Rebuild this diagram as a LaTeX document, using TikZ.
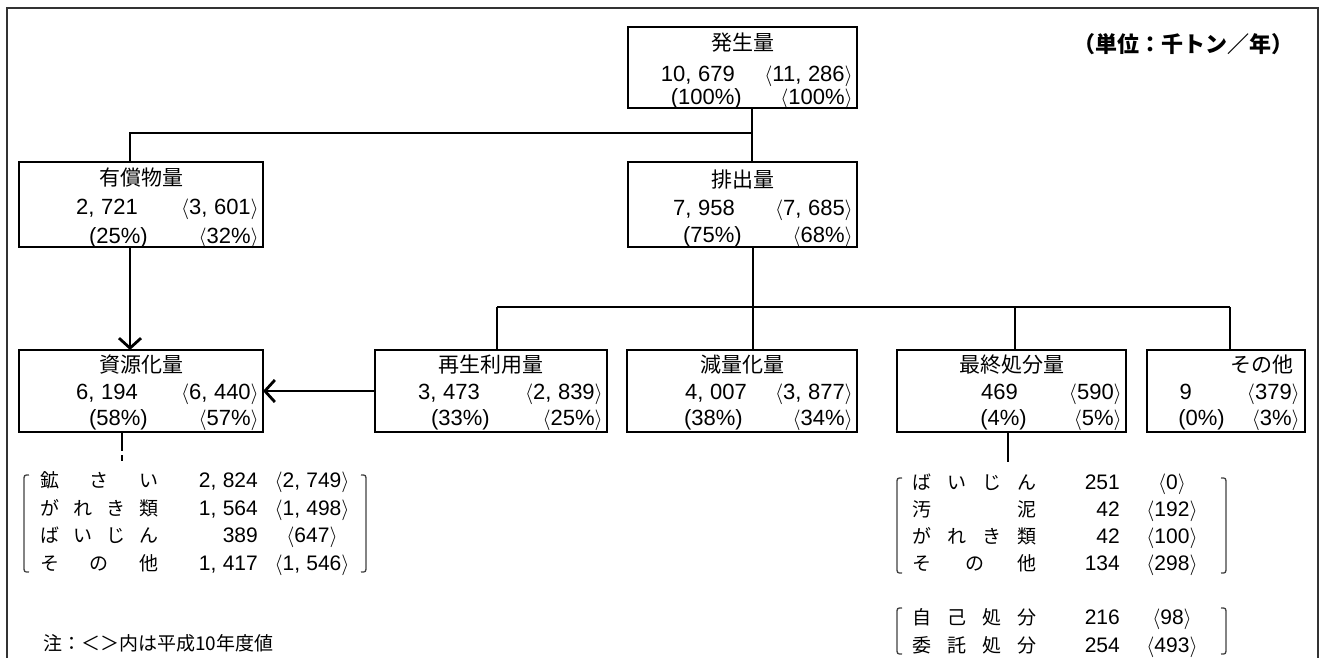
\documentclass[tikz,border=0pt]{standalone}
\usepackage{fontspec}
\setmainfont{Noto Sans CJK JP}
\newfontfamily\nf{Liberation Sans}
\usetikzlibrary{arrows.meta,calc}
\newcommand\cm{,\hspace{0.3em}}
\newcommand\la{$\langle$}
\newcommand\ra{$\rangle$}
\tikzset{
  box/.style={draw, line width=2.6pt, inner sep=0pt, outer sep=0pt},
  lnk/.style={line width=1.4pt},
  arr/.style={line width=2.8pt, -{Straight Barb[length=10pt,width=22pt,line width=2.8pt]}},
  ttl/.style={font=\fontsize{21}{21}\selectfont, inner sep=0pt, anchor=base},
  num/.style={font=\nf\fontsize{22}{22}\selectfont, inner sep=0pt, anchor=base east},
  lab/.style={font=\fontsize{19}{19}\selectfont, inner sep=0pt, anchor=base},
  lnum/.style={font=\nf\fontsize{21}{21}\selectfont, inner sep=0pt, anchor=base east},
  lbr/.style={font=\nf\fontsize{21}{21}\selectfont, inner sep=0pt, anchor=base},
  brk/.style={line width=1.3pt, black!75},
}
\begin{document}
\begin{tikzpicture}[x=1pt,y=-1pt]
\useasboundingbox (0,0) rectangle (1323,657);
% frame
\draw[line width=1.8pt, black!80] (7,700) -- (7,8) -- (1318,8) -- (1318,700);
% boxes
\node[box, minimum width=229pt, minimum height=81pt] (hassei) at (742.5,67.5) {};
\node[box, minimum width=244pt, minimum height=85pt] (yusho) at (141,204.5) {};
\node[box, minimum width=229pt, minimum height=85pt] (haishutsu) at (742.5,204.5) {};
\node[box, minimum width=244pt, minimum height=82pt] (shigen) at (141,391) {};
\node[box, minimum width=232pt, minimum height=82pt] (saisei) at (491,391) {};
\node[box, minimum width=230pt, minimum height=82pt] (genryo) at (742,391) {};
\node[box, minimum width=229pt, minimum height=82pt] (saishu) at (1011.5,391) {};
\node[box, minimum width=158pt, minimum height=82pt] (sonota) at (1226,391) {};
% box texts: hassei
\node[ttl] (t1) at (742.5,50) {発生量};
\node[num] (n1a) at (735,81) {10\cm679};
\node[num] (n1b) at (853,81) {\la 11\cm286\ra};
\node[num] (p1a) at (742,104) {(100\%)};
\node[num] (p1b) at (853,104) {\la 100\%\ra};
% yusho
\node[ttl] (t2) at (141,185.5) {有償物量};
\node[num] (n2a) at (138,214.5) {2\cm721};
\node[num] (n2b) at (259,214.5) {\la 3\cm601\ra};
\node[num] (p2a) at (148,243) {(25\%)};
\node[num] (p2b) at (259,243) {\la 32\%\ra};
% haishutsu
\node[ttl] (t3) at (742.5,187.5) {排出量};
\node[num] (n3a) at (735,215.5) {7\cm958};
\node[num] (n3b) at (853,215.5) {\la 7\cm685\ra};
\node[num] (p3a) at (742,242.5) {(75\%)};
\node[num] (p3b) at (853,242.5) {\la 68\%\ra};
% shigen
\node[ttl] (t4) at (141,372.5) {資源化量};
\node[num] (n4a) at (138,399.5) {6\cm194};
\node[num] (n4b) at (259,399.5) {\la 6\cm440\ra};
\node[num] (p4a) at (148,425) {(58\%)};
\node[num] (p4b) at (259,425) {\la 57\%\ra};
% saisei
\node[ttl] (t5) at (491,372.5) {再生利用量};
\node[num] (n5a) at (480,399.5) {3\cm473};
\node[num] (n5b) at (603,399.5) {\la 2\cm839\ra};
\node[num] (p5a) at (490,425) {(33\%)};
\node[num] (p5b) at (603,425) {\la 25\%\ra};
% genryo
\node[ttl] (t6) at (742,372.5) {減量化量};
\node[num] (n6a) at (747,399.5) {4\cm007};
\node[num] (n6b) at (853,399.5) {\la 3\cm877\ra};
\node[num] (p6a) at (743,425) {(38\%)};
\node[num] (p6b) at (853,425) {\la 34\%\ra};
% saishu
\node[ttl] (t7) at (1011.5,372.5) {最終処分量};
\node[num] (n7a) at (1018,399.5) {469};
\node[num] (n7b) at (1122,399.5) {\la 590\ra};
\node[num] (p7a) at (1027,425) {(4\%)};
\node[num] (p7b) at (1122,425) {\la 5\%\ra};
% sonota
\node[ttl] (t8) at (1262,372.5) {その他};
\node[num] (n8a) at (1192,399.5) {9};
\node[num] (n8b) at (1300,399.5) {\la 379\ra};
\node[num] (p8a) at (1225,425) {(0\%)};
\node[num] (p8b) at (1300,425) {\la 3\%\ra};
% connectors
\coordinate (c1) at (752,133);
\coordinate (c0) at (130,133);
\draw[lnk] (hassei.south -| c1) -- (haishutsu.north -| c1);
\draw[lnk] (c1) -- (c0) -- (yusho.north -| c0);
\coordinate (c2) at (753,307);
\coordinate (d1) at (497,307);
\coordinate (d3) at (1015,307);
\coordinate (d4) at (1230,307);
\draw[lnk] (haishutsu.south -| c2) -- (genryo.north -| c2);
\draw[lnk] (d1) -- (d4);
\draw[lnk] (d1) -- (saisei.north -| d1);
\draw[lnk] (d3) -- (saishu.north -| d3);
\draw[lnk] (d4) -- (sonota.north -| d4);
\coordinate (a1) at (130,0);
\coordinate (a2) at (0,391);
\draw[arr] (yusho.south -| a1) -- (shigen.north -| a1);
\draw[arr] (saisei.west |- a2) -- (shigen.east |- a2);
\coordinate (e1) at (122,0);
\coordinate (e2) at (1008,462);
\draw[line width=2.8pt, dash pattern=on 19pt off 4pt on 6pt off 60pt] (shigen.south -| e1) -- ++(0,30);
\draw[line width=2.8pt] (saishu.south -| e2) -- (e2);
% left list
\draw[brk] (29,475) .. controls (24,475) .. (24,481) -- (24,566) .. controls (24,572) .. (29,572);
\draw[brk] (361,475) .. controls (366,475) .. (366,481) -- (366,566) .. controls (366,572) .. (361,572);
\node[lab] (l1a) at (50,487) {鉱};
\node[lab] (l1b) at (99,487) {さ};
\node[lab] (l1c) at (149,487) {い};
\node[lnum] (l1n) at (258,487) {2\cm824};
\node[lbr] (l1m) at (312,487) {\la 2\cm749\ra};
\node[lab] (l2a) at (50,515) {が};
\node[lab] (l2b) at (83,515) {れ};
\node[lab] (l2c) at (116,515) {き};
\node[lab] (l2d) at (149,515) {類};
\node[lnum] (l2n) at (258,515) {1\cm564};
\node[lbr] (l2m) at (312,515) {\la 1\cm498\ra};
\node[lab] (l3a) at (50,542) {ば};
\node[lab] (l3b) at (83,542) {い};
\node[lab] (l3c) at (116,542) {じ};
\node[lab] (l3d) at (149,542) {ん};
\node[lnum] (l3n) at (258,542) {389};
\node[lbr] (l3m) at (312,542) {\la 647\ra};
\node[lab] (l4a) at (50,570) {そ};
\node[lab] (l4b) at (99,570) {の};
\node[lab] (l4c) at (149,570) {他};
\node[lnum] (l4n) at (258,570) {1\cm417};
\node[lbr] (l4m) at (312,570) {\la 1\cm546\ra};
% right list 1
\draw[brk] (902,478) .. controls (897,478) .. (897,484) -- (897,567) .. controls (897,573) .. (902,573);
\draw[brk] (1221,478) .. controls (1226,478) .. (1226,484) -- (1226,567) .. controls (1226,573) .. (1221,573);
\node[lab] (r1a) at (922,489) {ば};
\node[lab] (r1b) at (957,489) {い};
\node[lab] (r1c) at (992,489) {じ};
\node[lab] (r1d) at (1027,489) {ん};
\node[lnum] (r1n) at (1120,489) {251};
\node[lbr] (r1m) at (1172,489) {\la 0\ra};
\node[lab] (r2a) at (922,516) {汚};
\node[lab] (r2d) at (1027,516) {泥};
\node[lnum] (r2n) at (1120,516) {42};
\node[lbr] (r2m) at (1172,516) {\la 192\ra};
\node[lab] (r3a) at (922,543) {が};
\node[lab] (r3b) at (957,543) {れ};
\node[lab] (r3c) at (992,543) {き};
\node[lab] (r3d) at (1027,543) {類};
\node[lnum] (r3n) at (1120,543) {42};
\node[lbr] (r3m) at (1172,543) {\la 100\ra};
\node[lab] (r4a) at (922,570) {そ};
\node[lab] (r4b) at (975,570) {の};
\node[lab] (r4c) at (1027,570) {他};
\node[lnum] (r4n) at (1120,570) {134};
\node[lbr] (r4m) at (1172,570) {\la 298\ra};
% right list 2
\draw[brk] (902,608) .. controls (897,608) .. (897,614) -- (897,648) .. controls (897,654) .. (902,654);
\draw[brk] (1221,608) .. controls (1226,608) .. (1226,614) -- (1226,648) .. controls (1226,654) .. (1221,654);
\node[lab] (s1a) at (922,624) {自};
\node[lab] (s1b) at (957,624) {己};
\node[lab] (s1c) at (992,624) {処};
\node[lab] (s1d) at (1027,624) {分};
\node[lnum] (s1n) at (1120,624) {216};
\node[lbr] (s1m) at (1172,624) {\la 98\ra};
\node[lab] (s2a) at (922,652) {委};
\node[lab] (s2b) at (957,652) {託};
\node[lab] (s2c) at (992,652) {処};
\node[lab] (s2d) at (1027,652) {分};
\node[lnum] (s2n) at (1120,652) {254};
\node[lbr] (s2m) at (1172,652) {\la 493\ra};
% notes
\node[font=\fontsize{19}{19}\selectfont, inner sep=0pt, anchor=base west] (note) at (43,650) {注：＜＞内は平成10年度値};
\node[font=\bfseries\fontsize{22}{22}\selectfont, inner sep=0pt, anchor=base] (unit) at (1183,52) {（単位：千トン／年）};
\end{tikzpicture}
\end{document}
